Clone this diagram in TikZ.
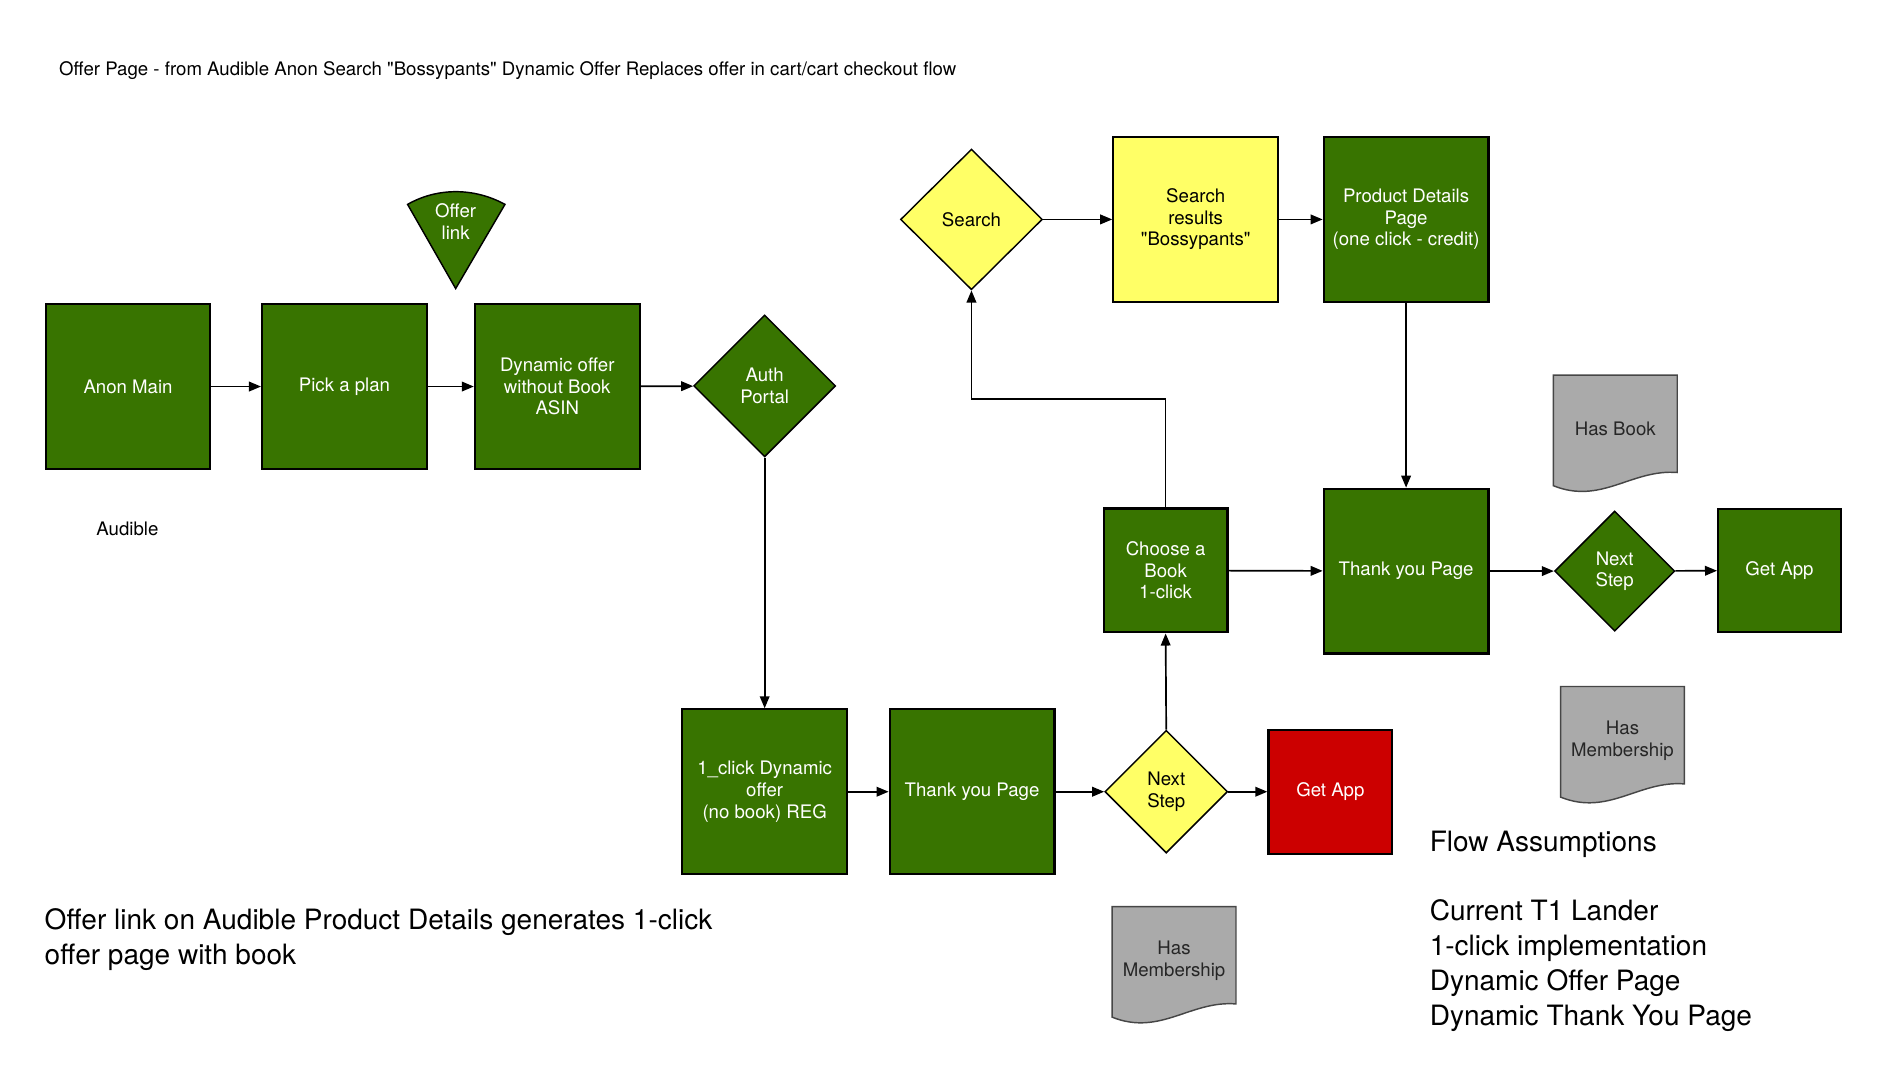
\documentclass[tikz,border=0pt]{standalone}
\usepackage{fontspec}
\setmainfont{TeX Gyre Heros}
\usetikzlibrary{shapes.geometric}
\usetikzlibrary{arrows.meta}

\definecolor{flowgreen}{RGB}{56,116,0}
\definecolor{flowyellow}{RGB}{255,255,102}
\definecolor{flowred}{RGB}{204,0,0}
\definecolor{docgray}{RGB}{170,170,170}
\definecolor{docedge}{RGB}{70,70,70}

\tikzset{
    boxfont/.style={font=\fontsize{15.5}{18}\selectfont},
    page/.style={boxfont,draw=black,line width=1.8pt,fill=flowgreen,text=white,align=center,minimum size=137pt,inner sep=2pt},
    smallpage/.style={page,minimum size=102pt},
    decision/.style={boxfont,diamond,draw=black,line width=1.2pt,fill=flowgreen,text=white,align=center,inner sep=0pt},
    arr/.style={line width=1.4pt,-{Triangle[length=10pt,width=8pt]}},
    doctext/.style={boxfont,text=black!85,align=center},
    bigtext/.style={font=\fontsize{23.3}{29}\selectfont,align=left,anchor=west,inner sep=0pt}
}

\newcommand{\docsheet}[4]{%
    \draw[docedge,fill=docgray,line width=1.2pt] (#2,#3) -- (#2+103,#3) -- (#2+103,#3+81)
        .. controls (#2+65,#3+78) and (#2+40,#3+108) .. (#2,#3+92) -- cycle;
    \node[doctext] (#1) at (#2+51.5,#3+45) {#4};
}

\begin{document}
\begin{tikzpicture}[x=1pt,y=-1pt]
                \useasboundingbox (0,0) rectangle (1567,886);

                \node[anchor=west,inner sep=0pt,font=\fontsize{15.5}{17}\selectfont] (title) at (49,59) {Offer Page - from Audible Anon Search \textquotedbl Bossypants\textquotedbl{} Dynamic Offer Replaces offer in cart/cart checkout flow};

                \node[page] (anon) at (106.5,321.5) {Anon Main};
                \node[page] (plan) at (286.5,321.5) {Pick a plan};
                \node[page] (dynoffer) at (463.5,321.5) {Dynamic offer\\without Book\\ASIN};
                \node[decision,minimum width=118pt,minimum height=118pt] (auth) at (636,321) {Auth\\Portal};
                \node[boxfont] (audible) at (106,440) {Audible};

                \draw[black,line width=1.2pt,fill=flowgreen] (379,240) -- (339,170)
                    .. controls (363.7,155.9) and (394.3,155.9) .. (420,170) -- cycle;
                \node[boxfont,text=white,align=center] (offerlink) at (379,184) {Offer\\link};

                \node[decision,fill=flowyellow,text=black,minimum width=118pt,minimum height=117pt] (search) at (808,182.5) {Search};
                \node[page,fill=flowyellow,text=black] (results) at (994.5,182.5) {Search\\results\\\textquotedbl Bossypants\textquotedbl};
                \node[page] (details) at (1169.5,182.5) {Product Details\\Page\\(one click - credit)};

                \node[smallpage,minimum size=103pt] (choose) at (969.5,474.5) {Choose a\\Book\\1-click};
                \node[page] (thanksright) at (1169.5,475) {Thank you Page};
                \node[decision,minimum size=100pt] (nextright) at (1343,475) {Next\\Step};
                \node[smallpage] (appright) at (1480,474.5) {Get App};

                \node[page] (oneclick) at (636,658.5) {1\_click Dynamic\\offer\\(no book) REG};
                \node[page] (thanksbottom) at (808.5,658.5) {Thank you Page};
                \node[decision,fill=flowyellow,text=black,minimum size=102pt] (nextbottom) at (970,658.5) {Next\\Step};
                \node[smallpage,fill=flowred,minimum size=103pt] (appbottom) at (1106.5,658.5) {Get App};

                \docsheet{hasbook}{1292}{312}{Has Book}
                \docsheet{memberright}{1298}{571}{Has\\Membership}
                \docsheet{memberbottom}{925}{754}{Has\\Membership}

                \node[bigtext] (offernote) at (37,781.5) {Offer link on Audible Product Details generates 1-click\\offer page with book};
                \node[bigtext] (flowhead) at (1189,702) {Flow Assumptions};
                \node[bigtext] (flowlist) at (1189,803) {Current T1 Lander\\1-click implementation\\Dynamic Offer Page\\Dynamic Thank You Page};

                \coordinate (turn) at (808,332);

                \draw[arr] (anon) -- (plan);
                \draw[arr] (plan) -- (dynoffer);
                \draw[arr] (dynoffer) -- (auth);
                \draw[arr] (auth.south) -- (oneclick.north);
                \draw[arr] (oneclick) -- (thanksbottom);
                \draw[arr] (thanksbottom) -- (nextbottom);
                \draw[arr] (nextbottom) -- (appbottom);
                \draw[arr] (nextbottom.north) -- (choose.south);
                \draw[arr] (choose.north) |- (turn) -- (search.south);
                \draw[arr] (search) -- (results);
                \draw[arr] (results) -- (details);
                \draw[arr] (details.south) -- (thanksright.north);
                \draw[arr] (choose) -- (thanksright);
                \draw[arr] (thanksright) -- (nextright);
                \draw[arr] (nextright) -- (appright);
\end{tikzpicture}
\end{document}
